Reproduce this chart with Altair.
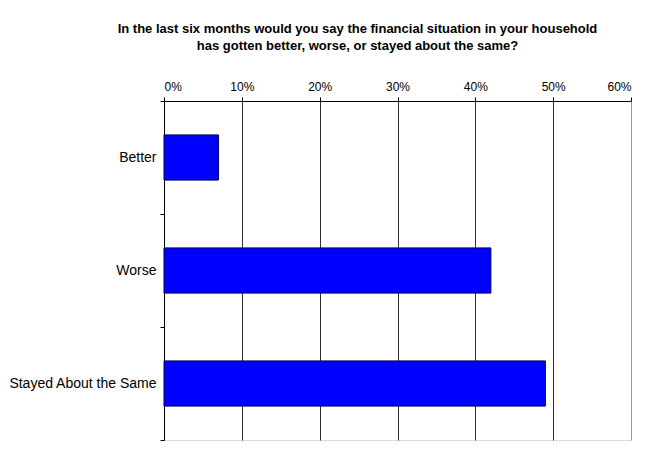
import altair as alt
import pandas as pd

categories = ["Better", "Worse", "Stayed About the Same"]
values = [0.07, 0.42, 0.49]
x_ticks = [0, 0.1, 0.2, 0.3, 0.4, 0.5, 0.6]
title_lines = [
    "In the last six months would you say the financial situation in your household",
    "has gotten better, worse, or stayed about the same?",
]

df = pd.DataFrame({"category": categories, "value": values})

font = "Liberation Sans"

chart = (
    alt.Chart(df)
    .mark_bar(color="#0000FF", stroke="#000060", strokeWidth=1, height={"band": 0.4})
    .encode(
        x=alt.X(
            "value:Q",
            scale=alt.Scale(domain=[0, 0.6], nice=False),
            axis=alt.Axis(
                orient="top",
                format="%",
                values=x_ticks,
                title=None,
                grid=True,
                gridColor={
                    "condition": {"test": "datum.value >= 0.6", "value": "#999999"},
                    "value": "#303030",
                },
                gridWidth=1,
                domainColor="#000000",
                tickColor="#000000",
                tickSize=4,
                labelPadding=4,
                labelFont=font,
                labelFontSize=12,
                labelColor="#000000",
            ),
        ),
        y=alt.Y(
            "category:N",
            sort=categories,
            scale=alt.Scale(paddingInner=0, paddingOuter=0),
            axis=alt.Axis(
                title=None,
                tickBand="extent",
                tickSize=4,
                tickColor="#000000",
                domainColor="#000000",
                labelPadding=4,
                labelFont=font,
                labelFontSize=14,
                labelColor="#000000",
                grid=False,
            ),
        ),
    )
    .properties(
        width=467,
        height=339,
        title=alt.TitleParams(
            text=title_lines,
            font=font,
            fontSize=13,
            fontWeight="bold",
            color="#000000",
            anchor="middle",
            frame="group",
            dx=-40,
            offset=27,
            lineHeight=17,
        ),
        padding={"left": 0, "top": 15, "right": 5, "bottom": 5},
    )
    .configure_view(stroke="#999999", strokeWidth=1)
    .configure(background="#FFFFFF")
)

chart.save("out.html", embed_options={"renderer": "svg", "actions": False})
